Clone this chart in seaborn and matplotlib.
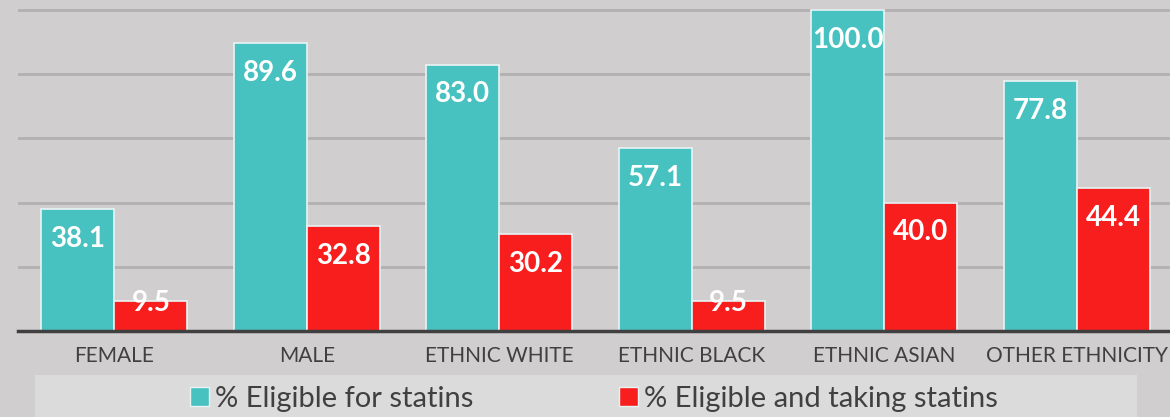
import numpy as np
import pandas as pd
import matplotlib
matplotlib.use("Agg")
import matplotlib.pyplot as plt
from matplotlib.patches import Rectangle, Patch
import seaborn as sns

categories = ["FEMALE", "MALE", "ETHNIC WHITE", "ETHNIC BLACK", "ETHNIC ASIAN", "OTHER ETHNICITY"]
eligible = [38.1, 89.6, 83.0, 57.1, 100.0, 77.8]
taking = [9.5, 32.8, 30.2, 9.5, 40.0, 44.4]
series_names = ["% Eligible for statins", "% Eligible and taking statins"]

BG = "#d0cecf"
TEAL = "#48c2c0"
RED = "#f81e1e"

df = pd.DataFrame({
    "group": categories * 2,
    "series": [series_names[0]] * len(categories) + [series_names[1]] * len(categories),
    "value": eligible + taking,
})

sns.set_style("white")
plt.rcParams["font.family"] = ["Lato", "DejaVu Sans"]

fig = plt.figure(figsize=(11.7, 4.17), dpi=100, facecolor=BG)
ax = fig.add_axes([18 / 1170, 86 / 417, 1 - 18 / 1170, 1 - 86 / 417])
ax.set_facecolor(BG)

sns.barplot(data=df, x="group", y="value", hue="series", order=categories,
            hue_order=series_names, palette=[TEAL, RED], saturation=1, width=0.76,
            edgecolor="#e8f4f4", linewidth=1.2, legend=False, ax=ax)

# value labels inside the top of each bar
for cont in ax.containers:
    for bar in cont:
        v = bar.get_height()
        ax.text(bar.get_x() + bar.get_width() / 2, max(v - 9.3, 8.7), f"{v:.1f}",
                ha="center", va="center", color="white", fontsize=20,
                fontweight="bold", zorder=5)

ax.set_ylim(0, 103.1)
ax.set_xlim(-0.5, 5.5 - 3 / 192.6)
ax.set_yticks([0, 20, 40, 60, 80, 100])
ax.set_yticklabels([])
ax.tick_params(axis="y", length=0)
ax.tick_params(axis="x", length=0, pad=11, labelsize=15, labelcolor="#404040")
ax.yaxis.grid(True, color="#b2b0b1", linewidth=2)
ax.set_axisbelow(True)
ax.set_xlabel("")
ax.set_ylabel("")
for s in ["top", "right", "left"]:
    ax.spines[s].set_visible(False)
ax.spines["bottom"].set_color("#404040")
ax.spines["bottom"].set_linewidth(2.5)
ax.spines["bottom"].set_zorder(6)

# legend panel
fig.patches.append(Rectangle((35 / 1170, 0), (1137 - 35) / 1170, 42 / 417,
                             transform=fig.transFigure, facecolor="#dcdbdb",
                             edgecolor="none", zorder=0))
handles = [Patch(facecolor=TEAL, edgecolor="#e8f4f4", linewidth=1),
           Patch(facecolor=RED, edgecolor="#e8f4f4", linewidth=1)]
fig.legend(handles, series_names, loc="center", bbox_to_anchor=(594 / 1170, 18 / 417),
           ncol=2, frameon=False, fontsize=21, handlelength=0.65, handleheight=0.65,
           handletextpad=0.2, columnspacing=5.0, labelcolor="#404040",
           borderpad=0, borderaxespad=0)

fig.savefig("out.png", dpi=100, facecolor=BG)
